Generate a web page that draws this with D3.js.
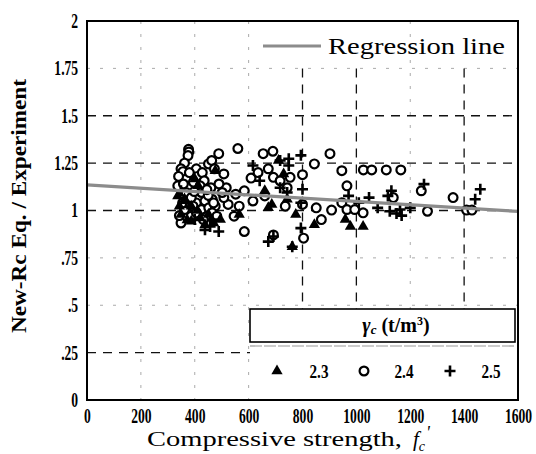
<!DOCTYPE html>
<html>
<head>
<meta charset="utf-8">
<script src="https://cdn.jsdelivr.net/npm/d3@7"></script>
<style>
  body { margin: 0; background: #fff; }
  text { font-family: "Liberation Serif", "DejaVu Serif", serif; }
</style>
</head>
<body>
<script>
// tick values and labels
const xTicks = [0, 200, 400, 600, 800, 1000, 1200, 1400, 1600];
const yTicks = [0, 0.25, 0.5, 0.75, 1, 1.25, 1.5, 1.75, 2];
const yTickLabels = ["0", ".25", ".5", ".75", "1", "1.25", "1.5", "1.75", "2"];

// regression line end points [fc, ratio]
const regression = [[0, 1.135], [1600, 0.995]];

// unit weight 2.3 (triangles)
const tri23 = [
  [337, 1.077], [343, 1.023], [349, 0.979], [387, 0.943], [400, 1.166], [413, 1.13],
  [438, 0.925], [470, 0.934], [495, 0.952], [476, 1.21], [387, 1.023], [451, 0.979],
  [660, 1.104], [673, 1.014], [686, 1.032], [711, 1.264], [730, 1.193], [775, 0.979],
  [762, 0.809], [844, 0.925], [959, 0.952], [978, 0.916], [1025, 0.916], [743, 1.059],
  [565, 0.979], [362, 1.06], [420, 0.96], [372, 0.95], [410, 1.0]
];

// unit weight 2.4 (circles)
const cir24 = [
  [377, 1.323], [378, 1.309], [375, 1.29], [362, 1.25], [349, 1.22], [356, 1.205],
  [368, 1.166], [347, 1.12], [349, 0.934], [343, 0.973], [387, 0.97], [406, 1.22],
  [410, 1.18], [428, 1.2], [435, 1.157], [406, 1.04], [425, 1.005], [438, 1.05],
  [451, 1.246], [463, 1.264], [489, 1.3], [473, 1.22], [508, 1.193], [460, 1.12],
  [465, 1.059], [452, 1.014], [441, 0.966], [476, 1.023], [517, 1.12], [524, 1.032],
  [546, 0.97], [560, 1.327], [552, 1.086], [565, 1.023], [584, 0.889], [584, 1.104],
  [616, 1.05], [609, 1.171], [635, 1.2], [654, 1.3], [690, 1.3125], [673, 1.22],
  [692, 1.175], [660, 1.077], [692, 0.871], [717, 1.157], [736, 1.023], [743, 1.12],
  [754, 1.175], [800, 1.189], [800, 1.032], [804, 0.854], [844, 1.246], [851, 1.014],
  [870, 0.952], [902, 1.3], [908, 1.002], [946, 1.21], [965, 1.13], [946, 1.041],
  [965, 1.005], [994, 1.005], [1025, 0.9875], [1026, 1.214], [1057, 1.214], [1111, 1.214],
  [1165, 1.214], [1241, 1.104], [1264, 0.996], [1359, 1.068], [1409, 1.002], [1429, 1.002],
  [1137, 1.068], [337, 1.13], [368, 1.095], [387, 1.068], [425, 1.095], [394, 1.023],
  [362, 1.005], [465, 0.9875], [482, 0.97], [508, 1.068], [502, 1.095], [432, 0.952],
  [406, 0.9875], [395, 1.15], [450, 1.08], [340, 1.18], [358, 1.14], [420, 1.13],
  [445, 1.11], [490, 1.14], [380, 1.2], [398, 1.1], [470, 1.04], [355, 1.04]
];

// unit weight 2.5 (crosses)
const plus25 = [
  [616, 1.2375], [641, 1.157], [749, 1.273], [749, 1.2375], [717, 1.264], [794, 1.291],
  [800, 1.1125], [794, 0.907], [762, 0.809], [673, 0.836], [692, 0.863], [438, 0.898],
  [489, 0.889], [457, 0.916], [717, 1.12], [743, 1.095], [794, 1.041], [971, 1.077],
  [1009, 1.041], [1047, 1.068], [1079, 1.014], [1117, 1.077], [1130, 1.104], [1124, 0.996],
  [1149, 0.984], [1168, 0.973], [1162, 1.005], [1200, 1.014], [1251, 1.139], [1441, 1.059],
  [1460, 1.1125], [349, 1.104], [368, 1.041], [400, 0.952], [465, 0.952]
];

const legendItems = [
  { label: "2.3", shape: "tri" },
  { label: "2.4", shape: "cir" },
  { label: "2.5", shape: "plus" }
];

const W = 536, H = 454;
const mLeft = 87, mRight = 518, mTop = 21, mBottom = 400;

const svg = d3.select("body").append("svg")
  .attr("width", W).attr("height", H);

const x = d3.scaleLinear().domain([0, 1600]).range([mLeft, mRight]);
const y = d3.scaleLinear().domain([0, 2]).range([mBottom, mTop]);

// grid lines
const strongY = [0.25, 1, 1.25, 1.5];
const strongX = [800, 1000, 1400];

svg.append("g").selectAll("line")
  .data(yTicks.filter(d => d > 0 && d < 2))
  .enter().append("line")
  .attr("x1", mLeft).attr("x2", mRight)
  .attr("y1", d => y(d)).attr("y2", d => y(d))
  .attr("stroke", d => strongY.includes(d) ? "#111" : "#aaa")
  .attr("stroke-width", d => strongY.includes(d) ? 1.3 : 1)
  .attr("stroke-dasharray", d => strongY.includes(d) ? "9,7" : "3,10");

svg.append("g").selectAll("line")
  .data(xTicks.filter(d => d > 0 && d < 1600))
  .enter().append("line")
  .attr("x1", d => x(d)).attr("x2", d => x(d))
  .attr("y1", d => strongX.includes(d) ? y(1.75) : mTop).attr("y2", mBottom)
  .attr("stroke", d => strongX.includes(d) ? "#111" : "#aaa")
  .attr("stroke-width", d => strongX.includes(d) ? 1.3 : 1)
  .attr("stroke-dasharray", d => strongX.includes(d) ? "9,7" : "3,10");

// legend block at bottom right (white area covering grid)
const lgX0 = 250, lgX1 = 515, lgY0 = 309, lgY1 = 342;
svg.append("rect")
  .attr("x", lgX0).attr("y", lgY0)
  .attr("width", mRight - lgX0 - 1).attr("height", mBottom - lgY0 - 1)
  .attr("fill", "#fff");
svg.append("rect")
  .attr("x", lgX0).attr("y", lgY0)
  .attr("width", lgX1 - lgX0).attr("height", lgY1 - lgY0)
  .attr("fill", "#fff").attr("stroke", "#000").attr("stroke-width", 1.6);
svg.append("line")
  .attr("x1", lgX0).attr("x2", lgX1)
  .attr("y1", 346).attr("y2", 346)
  .attr("stroke", "#999").attr("stroke-width", 1.2)
  .attr("stroke-dasharray", "12,2");

const gtitle = svg.append("text")
  .attr("x", 396).attr("y", 332)
  .attr("text-anchor", "middle")
  .attr("font-size", 20).attr("font-weight", "bold");
gtitle.append("tspan").attr("font-style", "italic").text("γ");
gtitle.append("tspan").attr("font-style", "italic").attr("font-size", 13).attr("dy", 2).text("c");
gtitle.append("tspan").attr("dy", -2).text(" (t/m");
gtitle.append("tspan").attr("font-size", 12).attr("dy", -7).text("3");
gtitle.append("tspan").attr("dy", 7).text(")");

// marker helpers
const triPath = d3.symbol().type(d3.symbolTriangle).size(55)();
function drawMarker(g, shape) {
  if (shape === "tri") {
    g.append("path").attr("d", triPath).attr("fill", "#000");
  } else if (shape === "cir") {
    g.append("circle").attr("r", 4.4)
      .attr("fill", "#fff").attr("stroke", "#000").attr("stroke-width", 2.2);
  } else {
    g.append("path").attr("d", "M-5.5,0H5.5M0,-5.5V5.5")
      .attr("stroke", "#000").attr("stroke-width", 2.6);
  }
}

const legX = [[277, 319], [364, 404], [450, 491]];
legendItems.forEach((it, i) => {
  const g = svg.append("g").attr("transform", `translate(${legX[i][0]},371)`);
  drawMarker(g, it.shape);
  svg.append("g").attr("transform", `translate(${legX[i][1]},378) scale(0.8,1)`)
    .append("text")
    .attr("text-anchor", "middle")
    .attr("font-size", 19).attr("font-weight", "bold")
    .text(it.label);
});

// data points
const series = [
  { data: cir24, shape: "cir" },
  { data: tri23, shape: "tri" },
  { data: plus25, shape: "plus" }
];
series.forEach(s => {
  svg.append("g").selectAll("g")
    .data(s.data)
    .enter().append("g")
    .attr("transform", d => `translate(${x(d[0])},${y(d[1])})`)
    .each(function () { drawMarker(d3.select(this), s.shape); });
});

// regression line
svg.append("line")
  .attr("x1", x(regression[0][0])).attr("y1", y(regression[0][1]))
  .attr("x2", x(regression[1][0])).attr("y2", y(regression[1][1]))
  .attr("stroke", "#8c8c8c").attr("stroke-width", 3.2);

// regression legend
svg.append("line")
  .attr("x1", 263).attr("x2", 321).attr("y1", 46).attr("y2", 46)
  .attr("stroke", "#8c8c8c").attr("stroke-width", 3.2);
svg.append("text")
  .attr("x", 328).attr("y", 54)
  .attr("font-size", 23)
  .attr("textLength", 177).attr("lengthAdjust", "spacingAndGlyphs")
  .text("Regression line");

// frame
svg.append("rect")
  .attr("x", mLeft).attr("y", mTop)
  .attr("width", mRight - mLeft).attr("height", mBottom - mTop)
  .attr("fill", "none").attr("stroke", "#000").attr("stroke-width", 2);

// axes (labels drawn in a condensed bold serif)
const sx = 0.68;
const xAxis = d3.axisBottom(x).tickValues(xTicks).tickSize(0).tickPadding(9)
  .tickFormat(d3.format("d"));
const yAxis = d3.axisLeft(y).tickValues(yTicks).tickSize(0).tickPadding(13)
  .tickFormat((d, i) => yTickLabels[i]);

svg.append("g")
  .attr("transform", `translate(0,${mBottom})`)
  .call(xAxis)
  .call(g => g.select(".domain").remove())
  .selectAll("text")
  .attr("font-family", "Liberation Serif")
  .attr("font-size", 20).attr("font-weight", "bold").attr("fill", "#000")
  .attr("transform", `scale(${sx},1)`);

svg.append("g")
  .attr("transform", `translate(${mLeft},0)`)
  .call(yAxis)
  .call(g => g.select(".domain").remove())
  .selectAll("text")
  .attr("font-family", "Liberation Serif")
  .attr("font-size", 20).attr("font-weight", "bold").attr("fill", "#000")
  .attr("transform", `scale(${sx},1)`);

// axis titles
svg.append("text")
  .attr("transform", "translate(26,206) rotate(-90)")
  .attr("text-anchor", "middle")
  .attr("font-size", 20).attr("font-weight", "bold")
  .attr("textLength", 254).attr("lengthAdjust", "spacingAndGlyphs")
  .text("New-Rc Eq. / Experiment");

svg.append("text")
  .attr("x", 147).attr("y", 446)
  .attr("font-size", 21)
  .attr("textLength", 255).attr("lengthAdjust", "spacingAndGlyphs")
  .text("Compressive strength,");
const ft = svg.append("text")
  .attr("x", 413).attr("y", 446)
  .attr("font-size", 21).attr("font-style", "italic");
ft.append("tspan").text("f");
ft.append("tspan").attr("font-size", 14).attr("dy", 5).text("c");
ft.append("tspan").attr("dy", -12).attr("dx", 1).attr("font-size", 18).text("'");
</script>
</body>
</html>
